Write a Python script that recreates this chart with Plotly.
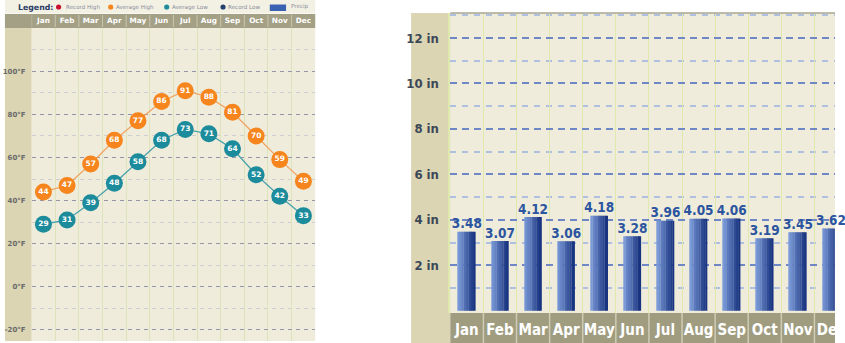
import plotly.graph_objects as go

# ---------------- data ----------------
months = ["Jan", "Feb", "Mar", "Apr", "May", "Jun", "Jul", "Aug", "Sep", "Oct", "Nov", "Dec"]
avg_high = [44, 47, 57, 68, 77, 86, 91, 88, 81, 70, 59, 49]
avg_low = [29, 31, 39, 48, 58, 68, 73, 71, 64, 52, 42, 33]
precip = [3.48, 3.07, 4.12, 3.06, 4.18, 3.28, 3.96, 4.05, 4.06, 3.19, 3.45, 3.62]
temp_ticks = [-20, 0, 20, 40, 60, 80, 100]
temp_tick_labels = ["-20°F", "0°F", "20°F", "40°F", "60°F", "80°F", "100°F"]
precip_ticks = [2, 4, 6, 8, 10, 12]
precip_tick_labels = ["2 in", "4 in", "6 in", "8 in", "10 in", "12 in"]
legend_labels = ["Record High", "Average High", "Average Low", "Record Low", "Precip"]

W, H = 845, 343


def px(x):
    return x / W


def py(y):
    return 1 - y / H


LEFT_FONT = "DejaVu Sans"
RIGHT_FONT = "DejaVu Sans Condensed, Liberation Sans"

fig = go.Figure()

# ---------------- left: temperatures ----------------
for vals, mcol, lcol in [(avg_high, "#f5851c", "#f1a564"), (avg_low, "#1c8b9b", "#4aa3ad")]:
    fig.add_trace(go.Scatter(
        x=months, y=vals, mode="lines+markers+text",
        text=[str(v) for v in vals], textposition="middle center",
        textfont=dict(color="white", size=7.5, family=LEFT_FONT, weight="bold"),
        marker=dict(size=17, color=mcol, line=dict(width=0)),
        line=dict(color=lcol, width=1.3),
        xaxis="x", yaxis="y", showlegend=False, cliponaxis=False,
    ))

# ---------------- right: precipitation (gradient bars via slices) ----------------
n_slices = 10
bar_w = 0.52
c0 = (0x7b, 0x9a, 0xd8)
c1 = (0x18, 0x34, 0x80)
for i in range(n_slices):
    t = i / (n_slices - 1)
    col = "rgb({},{},{})".format(*[int(round(a + (b - a) * t)) for a, b in zip(c0, c1)])
    sw = bar_w / n_slices
    fig.add_trace(go.Bar(
        x=months, y=precip, width=sw * 1.08, offset=-bar_w / 2 + i * sw,
        marker=dict(color=col, line=dict(width=0)),
        xaxis="x2", yaxis="y2", showlegend=False, hoverinfo="skip",
    ))
fig.add_trace(go.Scatter(
    x=months, y=precip, mode="text", text=[f"{v:.2f}" for v in precip],
    textposition="top center",
    textfont=dict(color="#2c55a0", size=13.5, family=RIGHT_FONT, weight="bold"),
    xaxis="x2", yaxis="y2", showlegend=False, cliponaxis=False,
))

# ---------------- shapes ----------------
shapes = []
shapes.append(dict(type="rect", xref="paper", yref="paper", x0=px(5), x1=px(319), y0=py(13.5), y1=py(0),
                   fillcolor="#f3f1e4", line=dict(width=0), layer="below"))
shapes.append(dict(type="rect", xref="paper", yref="paper", x0=px(5), x1=px(319), y0=py(28), y1=py(14),
                   fillcolor="#a3a086", line=dict(width=0), layer="below"))
shapes.append(dict(type="rect", xref="paper", yref="paper", x0=px(5), x1=px(32), y0=py(341), y1=py(28),
                   fillcolor="#dbd5b3", line=dict(width=0), layer="below"))
for k in range(12):
    shapes.append(dict(type="line", xref="x", yref="paper", x0=k - 0.5, x1=k - 0.5, y0=py(27), y1=py(15),
                       line=dict(color="#c9c6ad", width=1)))
shapes.append(dict(type="rect", xref="paper", yref="paper", x0=px(416), x1=px(455.7), y0=0, y1=py(13),
                   fillcolor="#dbd5b3", line=dict(width=0), layer="below"))
shapes.append(dict(type="rect", xref="paper", yref="paper", x0=px(455.7), x1=1, y0=0, y1=py(313),
                   fillcolor="#9f9c7f", line=dict(width=0), layer="below"))
for k in range(1, 12):
    shapes.append(dict(type="line", xref="x2", yref="paper", x0=k - 0.5, x1=k - 0.5, y0=0, y1=py(313),
                       line=dict(color="#cfccb6", width=1.5)))
shapes.append(dict(type="line", xref="paper", yref="paper", x0=px(455.7), x1=1, y0=py(13), y1=py(13),
                   line=dict(color="#a8a690", width=1.5)))

dot_specs = [(59.3, "#c8102e"), (112, "#f5851c"), (168.7, "#1c8b9b"), (225.7, "#23406e")]
for xc, col in dot_specs:
    shapes.append(dict(type="circle", xref="paper", yref="paper", x0=px(xc - 2.6), x1=px(xc + 2.6),
                       y0=py(9.6), y1=py(4.4), fillcolor=col, line=dict(width=0)))
shapes.append(dict(type="rect", xref="paper", yref="paper", x0=px(273), x1=px(289.5), y0=py(11), y1=py(4.5),
                   fillcolor="#3a62b2", line=dict(width=0)))

# ---------------- annotations ----------------
ann = []
ann.append(dict(text="Legend:", xref="paper", yref="paper", x=px(16), y=py(7.3), xanchor="left", yanchor="middle",
                showarrow=False, font=dict(family=LEFT_FONT, size=7.8, color="#2b3b66", weight="bold")))
label_x = [65, 115, 172, 229, 292]
label_y = [7.3, 7.3, 7.3, 7.3, 6.3]
for lx, ly, lab in zip(label_x, label_y, legend_labels):
    ann.append(dict(text=lab, xref="paper", yref="paper", x=px(lx), y=py(ly), xanchor="left", yanchor="middle",
                    showarrow=False, font=dict(family=LEFT_FONT, size=5.6, color="#8a8c9c")))

# ---------------- layout ----------------
fig.update_layout(
    width=W, height=H, margin=dict(l=0, r=0, t=0, b=0),
    paper_bgcolor="white", plot_bgcolor="#efecdb",
    barmode="overlay", showlegend=False,
    shapes=shapes, annotations=ann,
    xaxis=dict(
        domain=[px(32), px(319)], anchor="y", side="top",
        type="category", range=[-0.5, 11.5], tickson="boundaries",
        showgrid=True, gridcolor="#dde3bb", gridwidth=1,
        ticks="", ticklabelstandoff=3, tickangle=0,
        tickfont=dict(family=LEFT_FONT, size=7.3, color="white", weight="bold"),
        showline=False, zeroline=False, fixedrange=True,
    ),
    yaxis=dict(
        domain=[py(341), py(28)], anchor="x",
        range=[-25.2, 120.1],
        tickmode="array", tickvals=temp_ticks, ticktext=temp_tick_labels,
        showgrid=True, gridcolor="#9497aa", gridwidth=1.2, griddash="4px,4px",
        minor=dict(tick0=10, dtick=20, showgrid=True, gridcolor="#cfcfcf", gridwidth=1, griddash="4px,4px"),
        ticks="", ticklabelstandoff=5,
        tickfont=dict(family=LEFT_FONT, size=7, color="#6a6a6a", weight="bold"),
        zeroline=False, showline=False, fixedrange=True,
    ),
    xaxis2=dict(
        domain=[px(455.7), 1], anchor="y2",
        type="category", range=[-0.5, -0.5 + (845 - 455.7) / 33.5], tickson="boundaries",
        showgrid=True, gridcolor="#dfe8ad", gridwidth=1,
        ticks="", ticklabelstandoff=6, tickangle=0,
        tickfont=dict(family=RIGHT_FONT, size=15, color="white", weight="bold"),
        showline=False, zeroline=False, fixedrange=True,
    ),
    yaxis2=dict(
        domain=[py(313), py(13)], anchor="x2",
        range=[-0.1, 13.1],
        tickmode="array", tickvals=precip_ticks, ticktext=precip_tick_labels,
        showgrid=True, gridcolor="#6f87c4", gridwidth=2, griddash="7px,5px",
        minor=dict(tick0=1, dtick=2, showgrid=True, gridcolor="#aebfe0", gridwidth=1.5, griddash="6px,6px"),
        ticks="", ticklabelstandoff=7,
        tickfont=dict(family=RIGHT_FONT, size=13, color="#3c4858", weight="bold"),
        zeroline=False, showline=True, linecolor="#dfe8ad", linewidth=1.5, fixedrange=True,
    ),
)

fig.write_html("out.html")
